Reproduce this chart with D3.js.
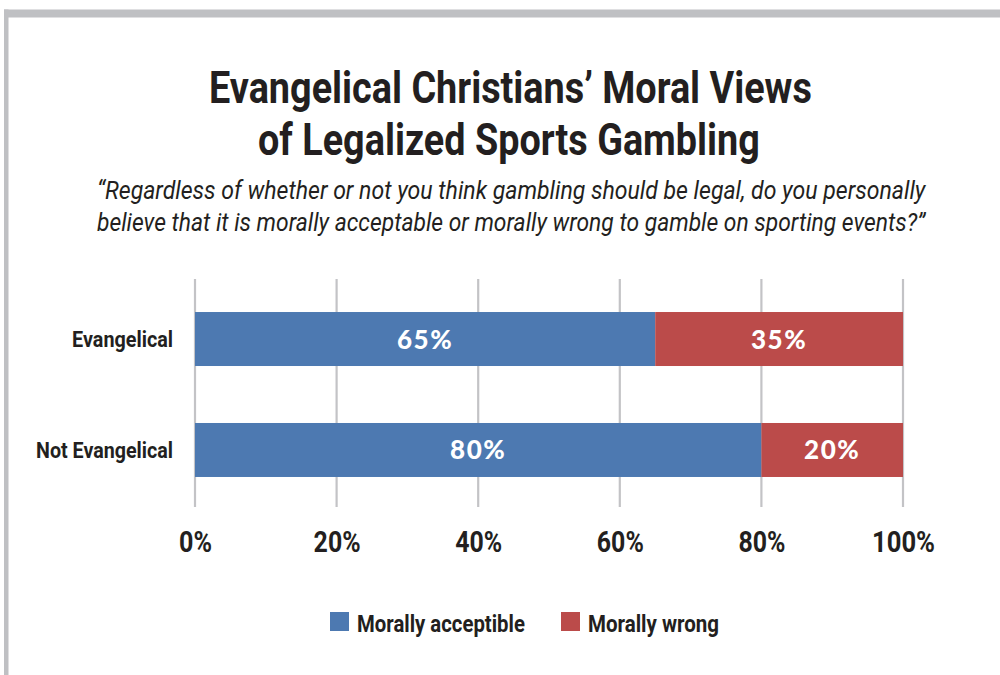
<!DOCTYPE html>
<html>
<head>
<meta charset="utf-8">
<script src="https://cdn.jsdelivr.net/npm/d3@7"></script>
<style>
  html, body { margin: 0; padding: 0; background: #fff; }
  svg { display: block; }
  .cond { font-family: Roboto, "Open Sans", sans-serif; }
</style>
</head>
<body>
<script>
// Survey results: share of respondents in each group
const categories = ["Evangelical", "Not Evangelical"];
const seriesNames = ["Morally acceptible", "Morally wrong"];
const acceptable = [65, 80];
const wrong = [35, 20];
const tickValues = [0, 20, 40, 60, 80, 100];
const colors = ["#4d79b1", "#bb4b4a"];

const W = 1000, H = 675;
const svg = d3.select("body").append("svg").attr("width", W).attr("height", H);

// Squeeze a text horizontally to a given width (condensed look), keeping its anchor point.
function fit(sel, width) {
  sel.each(function (d, i) {
    const t = d3.select(this);
    const w = typeof width === "function" ? width(d, i) : width;
    const k = w / this.getComputedTextLength();
    const x = +t.attr("x") || 0, y = +t.attr("y") || 0;
    t.attr("x", 0).attr("y", 0)
      .attr("transform", `translate(${x},${y}) scale(${k},1)`);
  });
}

// frame (gray top and left rule)
svg.append("rect").attr("x", 4).attr("y", 9.5).attr("width", W - 4).attr("height", 8).attr("fill", "#bfc0c3");
svg.append("rect").attr("x", 4).attr("y", 9.5).attr("width", 4.5).attr("height", H - 9.5).attr("fill", "#bfc0c3");

// title
const title = svg.append("g").attr("class", "cond")
  .attr("font-weight", 700).attr("fill", "#231f20").attr("font-size", 45);
title.append("text").attr("x", 209).attr("y", 103)
  .text("Evangelical Christians\u2019 Moral Views").call(fit, 603);
title.append("text").attr("x", 258).attr("y", 155)
  .text("of Legalized Sports Gambling").call(fit, 502);

// question wording
const sub = svg.append("g").attr("class", "cond")
  .attr("font-style", "italic").attr("font-weight", 400).attr("fill", "#231f20").attr("font-size", 25);
sub.append("text").attr("x", 97).attr("y", 199)
  .text("\u201CRegardless of whether or not you think gambling should be legal, do you personally")
  .call(fit, 829);
sub.append("text").attr("x", 97).attr("y", 231)
  .text("believe that it is morally acceptable or morally wrong to gamble on sporting events?\u201D")
  .call(fit, 829);

// scales
const x = d3.scaleLinear().domain([0, 100]).range([195, 903]);
const y = d3.scaleBand().domain(categories).range([283.5, 505.5])
  .paddingInner(0.5135).paddingOuter(0.257);

// vertical gridlines
svg.append("g").selectAll("line").data(tickValues).join("line")
  .attr("x1", d => x(d)).attr("x2", d => x(d))
  .attr("y1", 279).attr("y2", 507)
  .attr("stroke", "#c3c3c6").attr("stroke-width", 2.2);

// stacked bars
const rows = categories.map((c, i) => ({ cat: c, vals: [acceptable[i], wrong[i]] }));
const bars = svg.append("g");
rows.forEach(r => {
  let start = 0;
  r.vals.forEach((v, j) => {
    const x0 = x(start), x1 = x(start + v);
    bars.append("rect")
      .attr("x", x0).attr("y", y(r.cat))
      .attr("width", x1 - x0).attr("height", y.bandwidth())
      .attr("fill", colors[j]);
    bars.append("text")
      .attr("x", (x0 + x1) / 2).attr("y", y(r.cat) + y.bandwidth() / 2 + 9.5)
      .attr("text-anchor", "middle")
      .attr("font-family", "Lato, 'Open Sans', sans-serif")
      .attr("font-weight", 900).attr("font-size", 26).attr("letter-spacing", 1.5)
      .attr("fill", "#fff")
      .text(v + "%");
    start += v;
  });
});

// category labels
const catWidths = { "Evangelical": 101, "Not Evangelical": 137 };
svg.append("g").attr("class", "cond").selectAll("text").data(categories).join("text")
  .attr("x", 173).attr("y", d => y(d) + y.bandwidth() / 2 + 8)
  .attr("text-anchor", "end")
  .attr("font-weight", 700).attr("font-size", 22).attr("fill", "#231f20")
  .text(d => d)
  .call(fit, d => catWidths[d]);

// x axis labels
const xAxis = d3.axisBottom(x).tickValues(tickValues).tickSize(0).tickPadding(0)
  .tickFormat(d => d + "%");
const ax = svg.append("g").attr("transform", "translate(0,531)").call(xAxis);
ax.select(".domain").remove();
ax.selectAll("text")
  .attr("class", "cond")
  .attr("font-size", 30).attr("font-weight", 700).attr("fill", "#231f20")
  .attr("dy", "0.71em")
  .call(fit, d => d === 100 ? 63 : (d === 0 ? 33 : 47));

// legend
const legend = svg.append("g").attr("class", "cond");
const legX = [330, 561];
const legW = [168, 131];
seriesNames.forEach((name, i) => {
  legend.append("rect").attr("x", legX[i]).attr("y", 612).attr("width", 19).attr("height", 19).attr("fill", colors[i]);
  legend.append("text").attr("x", legX[i] + 27).attr("y", 632)
    .attr("font-weight", 700).attr("font-size", 24).attr("fill", "#231f20")
    .text(name)
    .call(fit, legW[i]);
});
</script>
</body>
</html>
